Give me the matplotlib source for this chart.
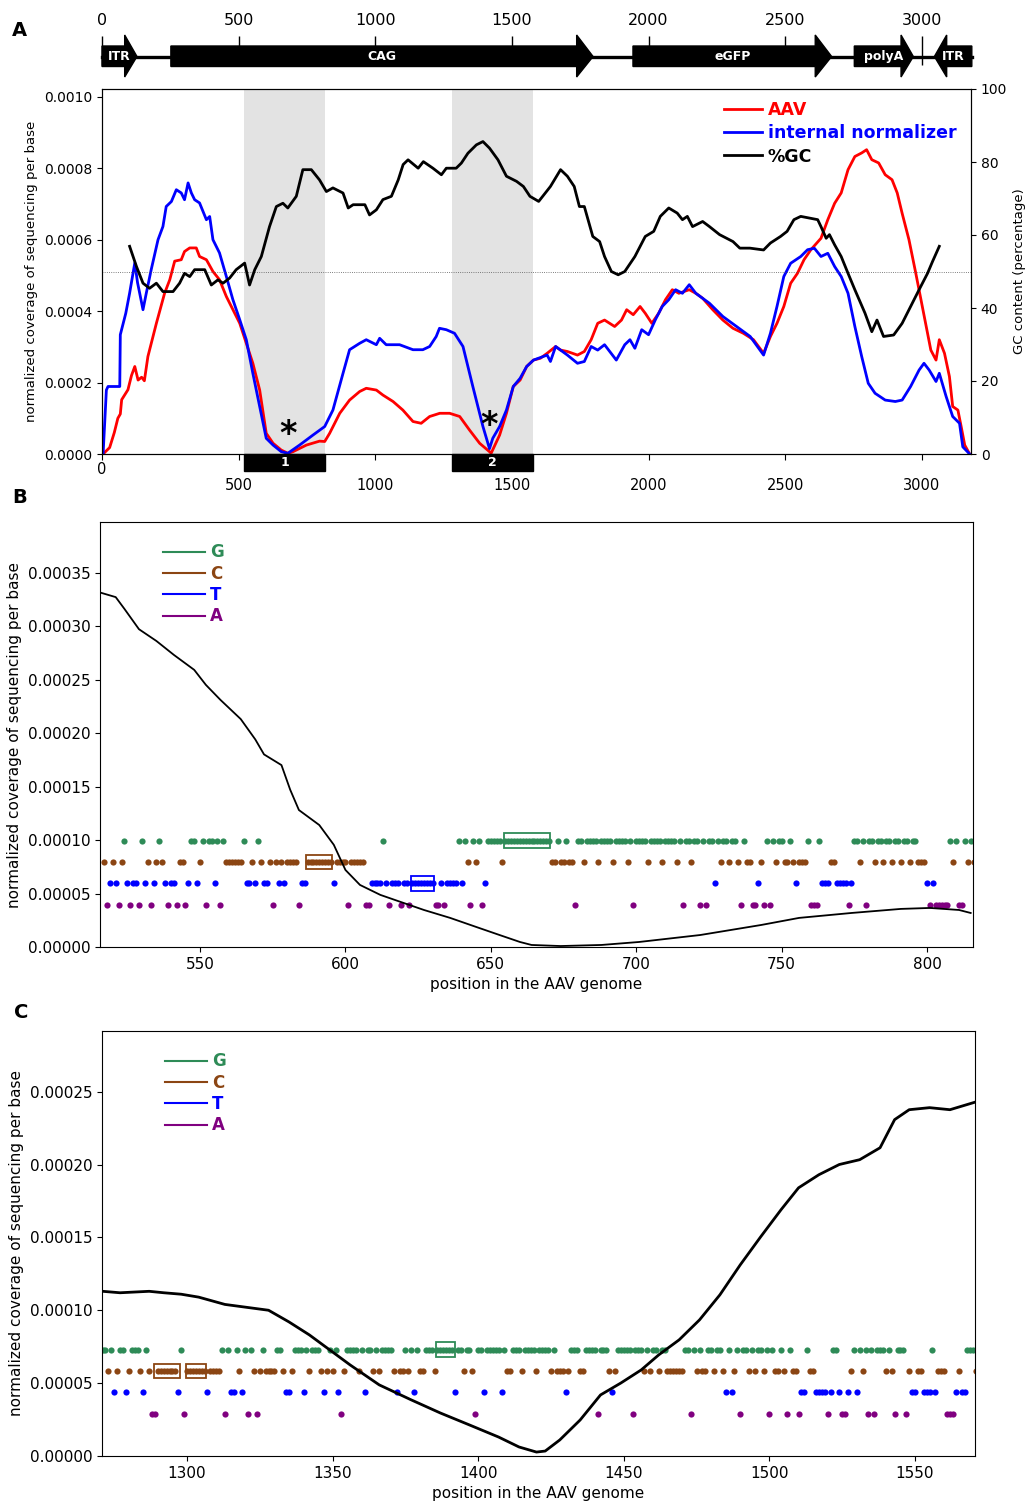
import numpy as np
import matplotlib.pyplot as plt
from matplotlib.patches import Polygon, Rectangle
from matplotlib.lines import Line2D
from matplotlib.ticker import FormatStrFormatter

# ---------------- genome map ----------------
feat_names = ['ITR', 'CAG', 'eGFP', 'polyA', 'ITR']
feat_start = [0, 252, 1943, 2753, 3046]
feat_end = [128, 1797, 2670, 2969, 3183]
feat_strand = [1, 1, 1, 1, -1]
genome_len = 3183

# ---------------- panel A (coverage in units of 1e-4) ----------------
aav_pos = [4, 28, 45, 58, 67, 72, 95, 108, 120, 132, 145, 155, 168, 199, 229, 248, 266, 290, 302,
           321, 345, 357, 382, 406, 430, 455, 479, 504, 528, 552, 577, 601, 626, 656, 680, 699,
           748, 796, 815, 833, 870, 906, 943, 967, 1004, 1028, 1065, 1101, 1138, 1168, 1199,
           1236, 1272, 1309, 1345, 1382, 1418, 1424, 1455, 1480, 1505, 1530, 1554, 1579, 1604,
           1629, 1660, 1678, 1703, 1740, 1765, 1790, 1814, 1839, 1876, 1901, 1920, 1944, 1969,
           1988, 2012, 2037, 2062, 2087, 2111, 2149, 2173, 2198, 2235, 2272, 2309, 2347, 2384,
           2421, 2446, 2470, 2495, 2520, 2545, 2569, 2594, 2631, 2656, 2681, 2705, 2730, 2755,
           2780, 2798, 2817, 2842, 2866, 2891, 2910, 2928, 2953, 2978, 3002, 3021, 3033, 3052,
           3064, 3083, 3101, 3113, 3132, 3144, 3157, 3175]
aav_cov = [0, 0.18, 0.6, 1.0, 1.12, 1.52, 1.8, 2.2, 2.45, 2.07, 2.15, 2.05, 2.73, 3.66, 4.5, 4.88,
           5.4, 5.44, 5.67, 5.77, 5.77, 5.53, 5.44, 5.11, 4.88, 4.41, 4.04, 3.66, 3.1, 2.54, 1.79,
           0.58, 0.3, 0.11, 0.02, 0.065, 0.25, 0.36, 0.35, 0.58, 1.14, 1.51, 1.75, 1.84, 1.79,
           1.65, 1.47, 1.23, 0.91, 0.86, 1.05, 1.14, 1.14, 1.05, 0.67, 0.3, 0.065, 0.02, 0.53,
           1.14, 1.89, 2.07, 2.45, 2.63, 2.68, 2.82, 3.01, 2.91, 2.87, 2.77, 2.87, 3.2, 3.66,
           3.75, 3.57, 3.75, 4.04, 3.9, 4.13, 3.94, 3.66, 3.94, 4.32, 4.6, 4.5, 4.6, 4.5, 4.36,
           4.04, 3.75, 3.52, 3.38, 3.2, 2.82, 3.29, 3.66, 4.13, 4.78, 5.06, 5.44, 5.72, 6.04,
           6.56, 7.02, 7.31, 7.96, 8.33, 8.43, 8.52, 8.24, 8.15, 7.82, 7.68, 7.31, 6.74, 6.0,
           5.06, 4.13, 3.38, 2.91, 2.63, 3.2, 2.82, 2.17, 1.33, 1.23, 0.77, 0.25, 0]

norm_pos = [4, 16, 22, 65, 67, 87, 101, 120, 130, 138, 150, 162, 180, 205, 223, 235, 254, 272, 290,
            302, 315, 327, 339, 357, 382, 394, 406, 430, 455, 479, 504, 528, 552, 577, 601, 626,
            656, 680, 723, 772, 815, 845, 882, 906, 943, 967, 1004, 1016, 1040, 1089, 1138, 1174,
            1199, 1223, 1235, 1260, 1290, 1321, 1357, 1394, 1418, 1430, 1455, 1480, 1505, 1530,
            1554, 1579, 1629, 1641, 1660, 1703, 1740, 1765, 1790, 1814, 1839, 1882, 1913, 1932,
            1950, 1975, 2000, 2025, 2050, 2074, 2099, 2124, 2149, 2173, 2223, 2272, 2322, 2372,
            2421, 2446, 2470, 2495, 2520, 2557, 2582, 2607, 2631, 2656, 2681, 2705, 2730, 2755,
            2780, 2804, 2829, 2866, 2903, 2928, 2959, 2990, 3008, 3027, 3052, 3064, 3089, 3113,
            3138, 3150, 3175]
norm_cov = [0, 1.79, 1.89, 1.89, 3.34, 3.94, 4.5, 5.35, 4.8, 4.5, 4.04, 4.5, 5.16, 6.0, 6.37, 6.93,
            7.07, 7.4, 7.31, 7.12, 7.59, 7.31, 7.12, 7.03, 6.56, 6.65, 6.0, 5.63, 4.97, 4.32,
            3.76, 3.2, 2.26, 1.33, 0.44, 0.25, 0.065, 0.02, 0.25, 0.53, 0.77, 1.23, 2.26, 2.92,
            3.1, 3.2, 3.06, 3.24, 3.06, 3.06, 2.92, 2.92, 3.01, 3.29, 3.52, 3.48, 3.38, 3.01,
            1.89, 0.77, 0.15, 0.44, 0.77, 1.23, 1.89, 2.12, 2.45, 2.63, 2.77, 2.59, 3.01, 2.77,
            2.54, 2.59, 3.01, 2.91, 3.06, 2.63, 3.06, 3.2, 2.96, 3.48, 3.34, 3.76, 4.13, 4.32, 4.6,
            4.5, 4.74, 4.5, 4.22, 3.85, 3.57, 3.29, 2.77, 3.38, 4.13, 4.97, 5.34, 5.53, 5.72,
            5.76, 5.53, 5.62, 5.25, 4.97, 4.5, 3.57, 2.73, 1.98, 1.7, 1.51, 1.47, 1.51, 1.89,
            2.35, 2.54, 2.35, 2.03, 2.26, 1.61, 1.05, 0.86, 0.2, 0]

gc_pos = [101, 126, 150, 174, 199, 223, 260, 284, 302, 321, 339, 376, 400, 424, 443, 467, 491, 522,
          540, 559, 583, 613, 638, 662, 680, 711, 735, 766, 796, 821, 845, 882, 901, 919, 962,
          979, 1004, 1028, 1059, 1084, 1102, 1120, 1157, 1176, 1211, 1242, 1260, 1296, 1315,
          1339, 1370, 1394, 1418, 1449, 1480, 1517, 1542, 1566, 1598, 1641, 1678, 1703, 1728,
          1747, 1765, 1796, 1821, 1839, 1864, 1889, 1913, 1950, 1988, 2019, 2043, 2074, 2105,
          2124, 2142, 2161, 2198, 2223, 2260, 2309, 2334, 2371, 2421, 2446, 2483, 2507, 2532,
          2557, 2619, 2631, 2650, 2662, 2681, 2705, 2730, 2755, 2792, 2817, 2836, 2860, 2897,
          2928, 2959, 2990, 3021, 3039, 3064]
gc_pct = [56.9, 51.4, 46.8, 45.4, 46.8, 44.5, 44.5, 46.8, 49.5, 48.6, 50.5, 50.5, 46.3, 47.7, 46.8,
          48.2, 50.5, 52.3, 46.3, 50.5, 54.1, 62.3, 67.8, 68.7, 67.4, 70.6, 77.9, 77.9, 75.1,
          71.9, 72.9, 71.5, 67.4, 68.3, 68.3, 65.5, 66.9, 69.7, 70.6, 75.1, 79.3, 80.6, 78.3,
          80.1, 78.3, 76.5, 78.3, 78.3, 79.7, 82.4, 84.7, 85.6, 83.8, 80.6, 76.1, 74.7, 73.3,
          70.6, 69.2, 73.3, 77.9, 76.1, 73.3, 67.8, 67.8, 59.6, 58.2, 54.1, 50.0, 49.1, 50.0,
          54.1, 59.6, 61.0, 65.1, 67.4, 66.0, 64.2, 65.1, 62.3, 63.7, 62.3, 60.1, 58.2, 56.4,
          56.4, 55.9, 57.8, 59.6, 61.0, 64.2, 65.1, 64.2, 62.3, 59.1, 60.1, 57.3, 54.1, 49.5,
          45.0, 38.6, 33.5, 36.7, 32.2, 32.6, 35.8, 40.4, 45.0, 49.5, 52.7, 56.9]

zoom_regions = [(519, 817), (1280, 1577)]
zoom_labels = ['1', '2']
star_pos = [680, 1418]
star_cov = [0.55, 0.8]

# ---------------- panel B ----------------
seq_b_start = 517
seq_b = ("CATCTACGTA" "TTAGTCATCG" "CTATTACCAT" "GGTCGAGGTG" "AGCCCCCCGT"
         "TCTGCTTCAC" "TCTCCCCATT" "CCCCCCCCCT" "CCCCACCCCC" "AATTTTGTAT"
         "TTATTATTTT" "TTTTAATATT" "TTGTGCAGCG" "ATGGGGGCGG" "GGGGGGGGGG"
         "GGGGCCGCCG" "CCAGGCGGGG" "CGGGGCGGGG" "CGAGGGGCGG" "GGCGGGGCGA"
         "GGCGGAGAGG" "TGCGGCGGCA" "GCCAATCAGA" "GCGGCCGCTC" "CCGAAAGTTT"
         "CCTTTTATGG" "CGAGGCGGCG" "GCGGCGGCGG" "CCCTATAAAA" "AGCGAAGCGC")
cov_b_pos = [516, 521, 524, 529, 535, 541, 548, 552, 557, 564, 569, 572, 578, 581, 584, 591, 596,
             600, 605, 612, 619, 627, 636, 645, 653, 660, 664, 674, 688, 701, 722, 743, 756, 774,
             791, 801, 811, 815]
cov_b = [3.31, 3.27, 3.16, 2.97, 2.86, 2.73, 2.59, 2.45, 2.31, 2.13, 1.94, 1.80, 1.70, 1.47, 1.28,
         1.14, 0.955, 0.72, 0.58, 0.487, 0.421, 0.346, 0.272, 0.187, 0.112, 0.047, 0.019, 0.009,
         0.019, 0.047, 0.112, 0.206, 0.272, 0.318, 0.356, 0.365, 0.346, 0.318]
boxes_b = [('C', 586.5, 595.5), ('T', 622.5, 630.5), ('G', 654.5, 670.5)]

# ---------------- panel C ----------------
seq_c_start = 1271
seq_c = ("GGCGTCGGTC" "GGGCTGCAAC" "CCCCCCTGAC" "CCCCCCTCCC" "CGAGTTGCTG"
         "AGCACGCCCC" "GGCTTCGGGT" "GCGGGCTCGC" "GTACGGGGCG" "TGGCGCGGGG"
         "CTCCGCGTGC" "CGGGCGGGGG" "GTGGCGGCAG" "GTGGGGGTGC" "CGGGCGGGGC"
         "GGGGCGCCCT" "CGGGCCGGGG" "AGGGCTCGGG" "GGAGGGCGCG" "GCGGCCCCCC"
         "GGAGCGCCGG" "CGGCTGTCGA" "GGCGCGGCGA" "GCCGCAGCCA" "TTGCCTTTTA"
         "TGGTAATCGT" "GCGAGAGGGC" "GCAGGGACTT" "CCTTTGTCCC" "AAATCTTGGGC")
cov_c_pos = [1271, 1277, 1287, 1292, 1298, 1304, 1313, 1322, 1328, 1335, 1342, 1349, 1356, 1366,
             1377, 1387, 1397, 1407, 1414, 1420, 1423, 1428, 1435, 1442, 1449, 1456, 1462, 1469,
             1476, 1483, 1490, 1497, 1504, 1510, 1517, 1524, 1531, 1538, 1543, 1548, 1555, 1562,
             1571]
cov_c = [1.13, 1.12, 1.13, 1.12, 1.11, 1.09, 1.04, 1.016, 1.0, 0.92, 0.831, 0.728, 0.625, 0.488,
         0.385, 0.295, 0.213, 0.13, 0.062, 0.027, 0.034, 0.11, 0.247, 0.419, 0.501, 0.591, 0.694,
         0.797, 0.934, 1.106, 1.312, 1.504, 1.69, 1.84, 1.93, 2.0, 2.033, 2.115, 2.308, 2.376,
         2.39, 2.376, 2.43]
boxes_c = [('C', 1288.5, 1297.5), ('C', 1299.5, 1306.5), ('G', 1385.5, 1392)]

base_col = {'G': '#2e8b57', 'C': '#8b4513', 'T': '#0000ff', 'A': '#800080'}
row_frac = {'G': 0.30, 'C': 0.24, 'T': 0.18, 'A': 0.12}

W, H = 1030, 1504
fig = plt.figure(figsize=(W / 100, H / 100), dpi=100)


def px_axes(l, t, r, b):
    return fig.add_axes([l / W, 1 - b / H, (r - l) / W, (b - t) / H])


# ---- genome map ----
axg = px_axes(102, 36, 971, 80)
axg.set_xlim(0, 3180)
axg.set_ylim(80, 36)
for s in axg.spines.values():
    s.set_visible(False)
axg.yaxis.set_visible(False)
axg.xaxis.tick_top()
axg.set_xticks(range(0, 3001, 500))
axg.tick_params(axis='x', direction='in', length=21, width=1, pad=5.5, labelsize=11.5)
axg.plot([0, genome_len], [56.5, 56.5], color='k', lw=2.4, zorder=2.6, clip_on=False)
for name, s, e, st in zip(feat_names, feat_start, feat_end, feat_strand):
    hl = 45 if e - s < 300 else 60
    bt, bb, ht, hb, mid = 46, 66.5, 35, 77, 56.5
    if st > 0:
        pts = [(s, bt), (e - hl, bt), (e - hl, ht), (e, mid), (e - hl, hb), (e - hl, bb), (s, bb)]
    else:
        pts = [(e, bt), (s + hl, bt), (s + hl, ht), (s, mid), (s + hl, hb), (s + hl, bb), (e, bb)]
    axg.add_patch(Polygon(pts, closed=True, color='k', zorder=3, clip_on=False))
    axg.text((s + e) / 2, mid, name, color='white', weight='bold', fontsize=9,
             ha='center', va='center', zorder=4)

# ---- panel A ----
axA = px_axes(102, 89, 971, 454)
axA.set_xlim(0, 3180)
axA.set_ylim(0, 0.001022)
for (s, e), lab in zip(zoom_regions, zoom_labels):
    axA.axvspan(s, e, color='#e3e3e3', lw=0, zorder=0)
    axA.add_patch(Rectangle((s, -0.0000475), e - s, 0.0000475, color='k', clip_on=False, zorder=5))
    axA.text((s + e) / 2, -0.000024, lab, color='white', weight='bold', fontsize=9,
             ha='center', va='center', zorder=6)
l1, = axA.plot(aav_pos, np.array(aav_cov) * 1e-4, color='red', lw=2, label='AAV')
l2, = axA.plot(norm_pos, np.array(norm_cov) * 1e-4, color='blue', lw=2, label='internal normalizer')
for x, y in zip(star_pos, star_cov):
    axA.text(x, y * 1e-4, '*', fontsize=24, weight='bold', ha='center', va='center')
axA.set_yticks(np.arange(0, 0.00101, 0.0002))
axA.yaxis.set_major_formatter(FormatStrFormatter('%.4f'))
axA.tick_params(axis='y', labelsize=10)
axA.set_xticks(range(0, 3001, 500))
axA.tick_params(axis='x', labelsize=10.5, length=4, pad=13)
axA.xaxis.get_major_ticks()[0].set_pad(2)
axA.set_ylabel('normalized coverage of sequencing per base', fontsize=9.5)

axR = axA.twinx()
axR.set_ylim(0, 100)
axR.axhline(50, color='#555555', lw=0.6, ls=':', zorder=1)
l3, = axR.plot(gc_pos, gc_pct, color='k', lw=2, label='%GC')
axR.set_yticks(range(0, 101, 20))
axR.tick_params(axis='y', labelsize=10)
axR.set_ylabel('GC content (percentage)', fontsize=9.5)
leg = axR.legend(handles=[l1, l2, l3], loc='upper right', bbox_to_anchor=(0.997, 1.0),
                 frameon=False, prop={'weight': 'bold', 'size': 12.5}, handlelength=2.2,
                 handletextpad=0.3, labelspacing=0.3, borderaxespad=0.3)
for t, c in zip(leg.get_texts(), ['red', 'blue', 'black']):
    t.set_color(c)


# ---- panels B and C ----
def zoom_panel(ax, seq, start, cpos, cov, boxes, xlim, lw):
    cov = np.array(cov) * 1e-4
    top = cov.max()
    pos = start + np.arange(len(seq))
    bases = np.array(list(seq))
    for b in 'GCTA':
        m = bases == b
        ax.scatter(pos[m], np.full(m.sum(), row_frac[b] * top), s=20, color=base_col[b],
                   linewidths=0, zorder=2)
    ax.plot(cpos, cov, color='k', lw=lw, zorder=3)
    hh = 0.0176 * 1.2 * top
    for b, x0, x1 in boxes:
        ax.add_patch(Rectangle((x0, row_frac[b] * top - hh), x1 - x0, 2 * hh, fill=False,
                               ec=base_col[b], lw=1.3, zorder=4))
    ax.set_xlim(*xlim)
    ax.set_ylim(0, 1.2 * top)
    ax.yaxis.set_major_formatter(FormatStrFormatter('%.5f'))
    ax.tick_params(labelsize=11)
    ax.set_xlabel('position in the AAV genome', fontsize=11)
    ax.set_ylabel('normalized coverage of sequencing per base', fontsize=11)
    handles = [Line2D([], [], color=base_col[b], lw=1.5) for b in 'GCTA']
    lg = ax.legend(handles, list('GCTA'), loc='upper left', bbox_to_anchor=(0.055, 0.985),
                   frameon=False, prop={'weight': 'bold', 'size': 12}, handlelength=2.5,
                   handletextpad=0.3, labelspacing=0.2)
    for t, b in zip(lg.get_texts(), 'GCTA'):
        t.set_color(base_col[b])


axB = px_axes(100, 522, 973, 947)
zoom_panel(axB, seq_b, seq_b_start, cov_b_pos, cov_b, boxes_b, (515.6, 815.8), 1.3)
axB.set_xticks(range(550, 801, 50))
axB.set_yticks(np.arange(0, 0.000351, 0.00005))

axC = px_axes(102, 1031, 975, 1456)
zoom_panel(axC, seq_c, seq_c_start, cov_c_pos, cov_c, boxes_c, (1270.8, 1570.6), 2.0)
axC.set_xticks(range(1300, 1551, 50))
axC.set_yticks(np.arange(0, 0.000251, 0.00005))

for lab, x, y in [('A', 12, 31), ('B', 12, 498), ('C', 14, 1012)]:
    fig.text(x / W, 1 - y / H, lab, fontsize=14, weight='bold', va='center')

fig.savefig('out.png', dpi=100)
